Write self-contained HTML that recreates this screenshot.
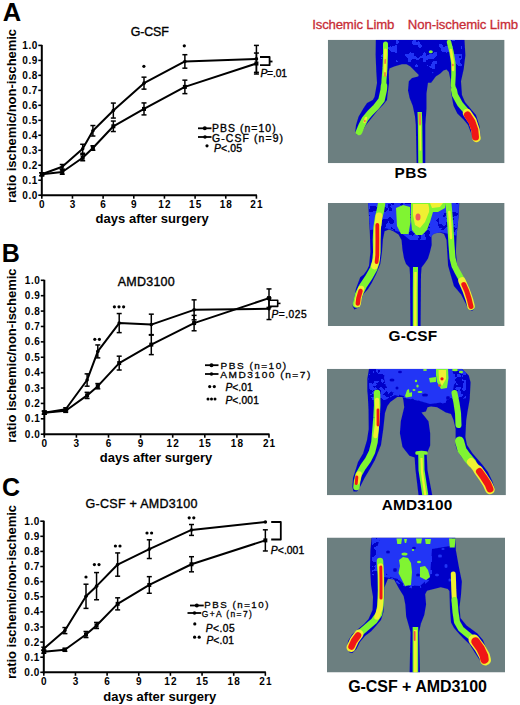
<!DOCTYPE html><html><head><meta charset="utf-8"><style>html,body{margin:0;padding:0;background:#fff;width:520px;height:705px;overflow:hidden}svg{display:block}text{font-family:"Liberation Sans",sans-serif}</style></head><body>
<svg width="520" height="705" viewBox="0 0 520 705">
<rect width="520" height="705" fill="#fff"/>
<line x1="41.8" y1="44.9" x2="41.8" y2="196.2" stroke="#000" stroke-width="2" stroke-linecap="butt"/>
<line x1="40.8" y1="195.2" x2="256.92" y2="195.2" stroke="#000" stroke-width="2" stroke-linecap="butt"/>
<line x1="38.3" y1="195.2" x2="41.8" y2="195.2" stroke="#000" stroke-width="1.6" stroke-linecap="butt"/>
<text x="37.3" y="198.8" font-size="10" font-weight="bold" text-anchor="end" fill="#000" textLength="15" lengthAdjust="spacing">0.0</text>
<line x1="38.3" y1="180.22" x2="41.8" y2="180.22" stroke="#000" stroke-width="1.6" stroke-linecap="butt"/>
<text x="37.3" y="183.82" font-size="10" font-weight="bold" text-anchor="end" fill="#000" textLength="15" lengthAdjust="spacing">0.1</text>
<line x1="38.3" y1="165.24" x2="41.8" y2="165.24" stroke="#000" stroke-width="1.6" stroke-linecap="butt"/>
<text x="37.3" y="168.84" font-size="10" font-weight="bold" text-anchor="end" fill="#000" textLength="15" lengthAdjust="spacing">0.2</text>
<line x1="38.3" y1="150.26" x2="41.8" y2="150.26" stroke="#000" stroke-width="1.6" stroke-linecap="butt"/>
<text x="37.3" y="153.86" font-size="10" font-weight="bold" text-anchor="end" fill="#000" textLength="15" lengthAdjust="spacing">0.3</text>
<line x1="38.3" y1="135.28" x2="41.8" y2="135.28" stroke="#000" stroke-width="1.6" stroke-linecap="butt"/>
<text x="37.3" y="138.88" font-size="10" font-weight="bold" text-anchor="end" fill="#000" textLength="15" lengthAdjust="spacing">0.4</text>
<line x1="38.3" y1="120.3" x2="41.8" y2="120.3" stroke="#000" stroke-width="1.6" stroke-linecap="butt"/>
<text x="37.3" y="123.9" font-size="10" font-weight="bold" text-anchor="end" fill="#000" textLength="15" lengthAdjust="spacing">0.5</text>
<line x1="38.3" y1="105.32" x2="41.8" y2="105.32" stroke="#000" stroke-width="1.6" stroke-linecap="butt"/>
<text x="37.3" y="108.92" font-size="10" font-weight="bold" text-anchor="end" fill="#000" textLength="15" lengthAdjust="spacing">0.6</text>
<line x1="38.3" y1="90.34" x2="41.8" y2="90.34" stroke="#000" stroke-width="1.6" stroke-linecap="butt"/>
<text x="37.3" y="93.94" font-size="10" font-weight="bold" text-anchor="end" fill="#000" textLength="15" lengthAdjust="spacing">0.7</text>
<line x1="38.3" y1="75.36" x2="41.8" y2="75.36" stroke="#000" stroke-width="1.6" stroke-linecap="butt"/>
<text x="37.3" y="78.96" font-size="10" font-weight="bold" text-anchor="end" fill="#000" textLength="15" lengthAdjust="spacing">0.8</text>
<line x1="38.3" y1="60.38" x2="41.8" y2="60.38" stroke="#000" stroke-width="1.6" stroke-linecap="butt"/>
<text x="37.3" y="63.98" font-size="10" font-weight="bold" text-anchor="end" fill="#000" textLength="15" lengthAdjust="spacing">0.9</text>
<line x1="38.3" y1="45.4" x2="41.8" y2="45.4" stroke="#000" stroke-width="1.6" stroke-linecap="butt"/>
<text x="37.3" y="49" font-size="10" font-weight="bold" text-anchor="end" fill="#000" textLength="15" lengthAdjust="spacing">1.0</text>
<line x1="41.8" y1="195.2" x2="41.8" y2="198.7" stroke="#000" stroke-width="1.6" stroke-linecap="butt"/>
<text x="41.8" y="207.5" font-size="10" font-weight="bold" text-anchor="middle" fill="#000">0</text>
<line x1="72.46" y1="195.2" x2="72.46" y2="198.7" stroke="#000" stroke-width="1.6" stroke-linecap="butt"/>
<text x="72.46" y="207.5" font-size="10" font-weight="bold" text-anchor="middle" fill="#000">3</text>
<line x1="103.12" y1="195.2" x2="103.12" y2="198.7" stroke="#000" stroke-width="1.6" stroke-linecap="butt"/>
<text x="103.12" y="207.5" font-size="10" font-weight="bold" text-anchor="middle" fill="#000">6</text>
<line x1="133.78" y1="195.2" x2="133.78" y2="198.7" stroke="#000" stroke-width="1.6" stroke-linecap="butt"/>
<text x="133.78" y="207.5" font-size="10" font-weight="bold" text-anchor="middle" fill="#000">9</text>
<line x1="164.44" y1="195.2" x2="164.44" y2="198.7" stroke="#000" stroke-width="1.6" stroke-linecap="butt"/>
<text x="164.44" y="207.5" font-size="10" font-weight="bold" text-anchor="middle" fill="#000" textLength="12.2" lengthAdjust="spacing">12</text>
<line x1="195.1" y1="195.2" x2="195.1" y2="198.7" stroke="#000" stroke-width="1.6" stroke-linecap="butt"/>
<text x="195.1" y="207.5" font-size="10" font-weight="bold" text-anchor="middle" fill="#000" textLength="12.2" lengthAdjust="spacing">15</text>
<line x1="225.76" y1="195.2" x2="225.76" y2="198.7" stroke="#000" stroke-width="1.6" stroke-linecap="butt"/>
<text x="225.76" y="207.5" font-size="10" font-weight="bold" text-anchor="middle" fill="#000" textLength="12.2" lengthAdjust="spacing">18</text>
<line x1="256.42" y1="195.2" x2="256.42" y2="198.7" stroke="#000" stroke-width="1.6" stroke-linecap="butt"/>
<text x="256.42" y="207.5" font-size="10" font-weight="bold" text-anchor="middle" fill="#000" textLength="12.2" lengthAdjust="spacing">21</text>
<polyline points="41.8,174.23 62.24,171.98 82.68,157.75 92.9,148.01 113.34,126.29 144,108.92 184.88,86.89 256.42,63.53" fill="none" stroke="#000" stroke-width="2" stroke-linejoin="round"/>
<line x1="41.8" y1="172.73" x2="41.8" y2="175.73" stroke="#000" stroke-width="1.5" stroke-linecap="butt"/>
<line x1="39.3" y1="172.73" x2="44.3" y2="172.73" stroke="#000" stroke-width="1.5" stroke-linecap="butt"/>
<line x1="39.3" y1="175.73" x2="44.3" y2="175.73" stroke="#000" stroke-width="1.5" stroke-linecap="butt"/>
<rect x="39.8" y="172.23" width="4" height="4" fill="#000"/>
<line x1="62.24" y1="169.73" x2="62.24" y2="174.23" stroke="#000" stroke-width="1.5" stroke-linecap="butt"/>
<line x1="59.74" y1="169.73" x2="64.74" y2="169.73" stroke="#000" stroke-width="1.5" stroke-linecap="butt"/>
<line x1="59.74" y1="174.23" x2="64.74" y2="174.23" stroke="#000" stroke-width="1.5" stroke-linecap="butt"/>
<rect x="60.24" y="169.98" width="4" height="4" fill="#000"/>
<line x1="82.68" y1="154.75" x2="82.68" y2="160.75" stroke="#000" stroke-width="1.5" stroke-linecap="butt"/>
<line x1="80.18" y1="154.75" x2="85.18" y2="154.75" stroke="#000" stroke-width="1.5" stroke-linecap="butt"/>
<line x1="80.18" y1="160.75" x2="85.18" y2="160.75" stroke="#000" stroke-width="1.5" stroke-linecap="butt"/>
<rect x="80.68" y="155.75" width="4" height="4" fill="#000"/>
<line x1="92.9" y1="145.77" x2="92.9" y2="150.26" stroke="#000" stroke-width="1.5" stroke-linecap="butt"/>
<line x1="90.4" y1="145.77" x2="95.4" y2="145.77" stroke="#000" stroke-width="1.5" stroke-linecap="butt"/>
<line x1="90.4" y1="150.26" x2="95.4" y2="150.26" stroke="#000" stroke-width="1.5" stroke-linecap="butt"/>
<rect x="90.9" y="146.01" width="4" height="4" fill="#000"/>
<line x1="113.34" y1="121.05" x2="113.34" y2="131.53" stroke="#000" stroke-width="1.5" stroke-linecap="butt"/>
<line x1="110.84" y1="121.05" x2="115.84" y2="121.05" stroke="#000" stroke-width="1.5" stroke-linecap="butt"/>
<line x1="110.84" y1="131.53" x2="115.84" y2="131.53" stroke="#000" stroke-width="1.5" stroke-linecap="butt"/>
<rect x="111.34" y="124.29" width="4" height="4" fill="#000"/>
<line x1="144" y1="102.92" x2="144" y2="114.91" stroke="#000" stroke-width="1.5" stroke-linecap="butt"/>
<line x1="141.5" y1="102.92" x2="146.5" y2="102.92" stroke="#000" stroke-width="1.5" stroke-linecap="butt"/>
<line x1="141.5" y1="114.91" x2="146.5" y2="114.91" stroke="#000" stroke-width="1.5" stroke-linecap="butt"/>
<rect x="142" y="106.92" width="4" height="4" fill="#000"/>
<line x1="184.88" y1="80.15" x2="184.88" y2="93.64" stroke="#000" stroke-width="1.5" stroke-linecap="butt"/>
<line x1="182.38" y1="80.15" x2="187.38" y2="80.15" stroke="#000" stroke-width="1.5" stroke-linecap="butt"/>
<line x1="182.38" y1="93.64" x2="187.38" y2="93.64" stroke="#000" stroke-width="1.5" stroke-linecap="butt"/>
<rect x="182.88" y="84.89" width="4" height="4" fill="#000"/>
<line x1="256.42" y1="53.04" x2="256.42" y2="74.01" stroke="#000" stroke-width="1.5" stroke-linecap="butt"/>
<line x1="253.92" y1="53.04" x2="258.92" y2="53.04" stroke="#000" stroke-width="1.5" stroke-linecap="butt"/>
<line x1="253.92" y1="74.01" x2="258.92" y2="74.01" stroke="#000" stroke-width="1.5" stroke-linecap="butt"/>
<rect x="254.42" y="61.53" width="4" height="4" fill="#000"/>
<polyline points="41.8,174.23 62.24,166.74 82.68,148.76 92.9,130.79 113.34,110.56 144,83.15 184.88,61.43 256.42,58.88" fill="none" stroke="#000" stroke-width="2" stroke-linejoin="round"/>
<line x1="41.8" y1="172.73" x2="41.8" y2="175.73" stroke="#000" stroke-width="1.5" stroke-linecap="butt"/>
<line x1="39.3" y1="172.73" x2="44.3" y2="172.73" stroke="#000" stroke-width="1.5" stroke-linecap="butt"/>
<line x1="39.3" y1="175.73" x2="44.3" y2="175.73" stroke="#000" stroke-width="1.5" stroke-linecap="butt"/>
<circle cx="41.8" cy="174.23" r="1.8" fill="#000"/>
<line x1="62.24" y1="164.49" x2="62.24" y2="168.98" stroke="#000" stroke-width="1.5" stroke-linecap="butt"/>
<line x1="59.74" y1="164.49" x2="64.74" y2="164.49" stroke="#000" stroke-width="1.5" stroke-linecap="butt"/>
<line x1="59.74" y1="168.98" x2="64.74" y2="168.98" stroke="#000" stroke-width="1.5" stroke-linecap="butt"/>
<circle cx="62.24" cy="166.74" r="1.8" fill="#000"/>
<line x1="82.68" y1="144.27" x2="82.68" y2="153.26" stroke="#000" stroke-width="1.5" stroke-linecap="butt"/>
<line x1="80.18" y1="144.27" x2="85.18" y2="144.27" stroke="#000" stroke-width="1.5" stroke-linecap="butt"/>
<line x1="80.18" y1="153.26" x2="85.18" y2="153.26" stroke="#000" stroke-width="1.5" stroke-linecap="butt"/>
<circle cx="82.68" cy="148.76" r="1.8" fill="#000"/>
<line x1="92.9" y1="125.54" x2="92.9" y2="136.03" stroke="#000" stroke-width="1.5" stroke-linecap="butt"/>
<line x1="90.4" y1="125.54" x2="95.4" y2="125.54" stroke="#000" stroke-width="1.5" stroke-linecap="butt"/>
<line x1="90.4" y1="136.03" x2="95.4" y2="136.03" stroke="#000" stroke-width="1.5" stroke-linecap="butt"/>
<circle cx="92.9" cy="130.79" r="1.8" fill="#000"/>
<line x1="113.34" y1="103.07" x2="113.34" y2="118.05" stroke="#000" stroke-width="1.5" stroke-linecap="butt"/>
<line x1="110.84" y1="103.07" x2="115.84" y2="103.07" stroke="#000" stroke-width="1.5" stroke-linecap="butt"/>
<line x1="110.84" y1="118.05" x2="115.84" y2="118.05" stroke="#000" stroke-width="1.5" stroke-linecap="butt"/>
<circle cx="113.34" cy="110.56" r="1.8" fill="#000"/>
<line x1="144" y1="77.16" x2="144" y2="89.14" stroke="#000" stroke-width="1.5" stroke-linecap="butt"/>
<line x1="141.5" y1="77.16" x2="146.5" y2="77.16" stroke="#000" stroke-width="1.5" stroke-linecap="butt"/>
<line x1="141.5" y1="89.14" x2="146.5" y2="89.14" stroke="#000" stroke-width="1.5" stroke-linecap="butt"/>
<circle cx="144" cy="83.15" r="1.8" fill="#000"/>
<line x1="184.88" y1="54.69" x2="184.88" y2="68.17" stroke="#000" stroke-width="1.5" stroke-linecap="butt"/>
<line x1="182.38" y1="54.69" x2="187.38" y2="54.69" stroke="#000" stroke-width="1.5" stroke-linecap="butt"/>
<line x1="182.38" y1="68.17" x2="187.38" y2="68.17" stroke="#000" stroke-width="1.5" stroke-linecap="butt"/>
<circle cx="184.88" cy="61.43" r="1.8" fill="#000"/>
<line x1="256.42" y1="45.4" x2="256.42" y2="72.36" stroke="#000" stroke-width="1.5" stroke-linecap="butt"/>
<line x1="253.92" y1="45.4" x2="258.92" y2="45.4" stroke="#000" stroke-width="1.5" stroke-linecap="butt"/>
<line x1="253.92" y1="72.36" x2="258.92" y2="72.36" stroke="#000" stroke-width="1.5" stroke-linecap="butt"/>
<circle cx="256.42" cy="58.88" r="1.8" fill="#000"/>
<text x="2.7" y="21" font-size="25.5" font-weight="bold" text-anchor="start" fill="#000">A</text>
<text x="130.8" y="35.8" font-size="12.4" font-weight="normal" text-anchor="start" fill="#000" textLength="38" lengthAdjust="spacing" stroke="#000" stroke-width="0.35">G-CSF</text>
<text x="95.5" y="222.5" font-size="13" font-weight="bold" text-anchor="start" fill="#000" textLength="113.2" lengthAdjust="spacing">days after surgery</text>
<text x="0" y="0" font-size="13" font-weight="bold" text-anchor="middle" textLength="174" lengthAdjust="spacing" transform="translate(15.6,115.9) rotate(-90)">ratio ischemic/non-ischemic</text>
<circle cx="143.9" cy="66.3" r="1.6"/>
<circle cx="184.3" cy="45.8" r="1.6"/>
<line x1="44.3" y1="279.8" x2="44.3" y2="435.2" stroke="#000" stroke-width="2" stroke-linecap="butt"/>
<line x1="43.3" y1="434.2" x2="269.5" y2="434.2" stroke="#000" stroke-width="2" stroke-linecap="butt"/>
<line x1="40.8" y1="434.2" x2="44.3" y2="434.2" stroke="#000" stroke-width="1.6" stroke-linecap="butt"/>
<text x="39.8" y="437.8" font-size="10" font-weight="bold" text-anchor="end" fill="#000" textLength="15" lengthAdjust="spacing">0.0</text>
<line x1="40.8" y1="418.81" x2="44.3" y2="418.81" stroke="#000" stroke-width="1.6" stroke-linecap="butt"/>
<text x="39.8" y="422.41" font-size="10" font-weight="bold" text-anchor="end" fill="#000" textLength="15" lengthAdjust="spacing">0.1</text>
<line x1="40.8" y1="403.42" x2="44.3" y2="403.42" stroke="#000" stroke-width="1.6" stroke-linecap="butt"/>
<text x="39.8" y="407.02" font-size="10" font-weight="bold" text-anchor="end" fill="#000" textLength="15" lengthAdjust="spacing">0.2</text>
<line x1="40.8" y1="388.03" x2="44.3" y2="388.03" stroke="#000" stroke-width="1.6" stroke-linecap="butt"/>
<text x="39.8" y="391.63" font-size="10" font-weight="bold" text-anchor="end" fill="#000" textLength="15" lengthAdjust="spacing">0.3</text>
<line x1="40.8" y1="372.64" x2="44.3" y2="372.64" stroke="#000" stroke-width="1.6" stroke-linecap="butt"/>
<text x="39.8" y="376.24" font-size="10" font-weight="bold" text-anchor="end" fill="#000" textLength="15" lengthAdjust="spacing">0.4</text>
<line x1="40.8" y1="357.25" x2="44.3" y2="357.25" stroke="#000" stroke-width="1.6" stroke-linecap="butt"/>
<text x="39.8" y="360.85" font-size="10" font-weight="bold" text-anchor="end" fill="#000" textLength="15" lengthAdjust="spacing">0.5</text>
<line x1="40.8" y1="341.86" x2="44.3" y2="341.86" stroke="#000" stroke-width="1.6" stroke-linecap="butt"/>
<text x="39.8" y="345.46" font-size="10" font-weight="bold" text-anchor="end" fill="#000" textLength="15" lengthAdjust="spacing">0.6</text>
<line x1="40.8" y1="326.47" x2="44.3" y2="326.47" stroke="#000" stroke-width="1.6" stroke-linecap="butt"/>
<text x="39.8" y="330.07" font-size="10" font-weight="bold" text-anchor="end" fill="#000" textLength="15" lengthAdjust="spacing">0.7</text>
<line x1="40.8" y1="311.08" x2="44.3" y2="311.08" stroke="#000" stroke-width="1.6" stroke-linecap="butt"/>
<text x="39.8" y="314.68" font-size="10" font-weight="bold" text-anchor="end" fill="#000" textLength="15" lengthAdjust="spacing">0.8</text>
<line x1="40.8" y1="295.69" x2="44.3" y2="295.69" stroke="#000" stroke-width="1.6" stroke-linecap="butt"/>
<text x="39.8" y="299.29" font-size="10" font-weight="bold" text-anchor="end" fill="#000" textLength="15" lengthAdjust="spacing">0.9</text>
<line x1="40.8" y1="280.3" x2="44.3" y2="280.3" stroke="#000" stroke-width="1.6" stroke-linecap="butt"/>
<text x="39.8" y="283.9" font-size="10" font-weight="bold" text-anchor="end" fill="#000" textLength="15" lengthAdjust="spacing">1.0</text>
<line x1="44.3" y1="434.2" x2="44.3" y2="437.7" stroke="#000" stroke-width="1.6" stroke-linecap="butt"/>
<text x="44.3" y="446.5" font-size="10" font-weight="bold" text-anchor="middle" fill="#000">0</text>
<line x1="76.4" y1="434.2" x2="76.4" y2="437.7" stroke="#000" stroke-width="1.6" stroke-linecap="butt"/>
<text x="76.4" y="446.5" font-size="10" font-weight="bold" text-anchor="middle" fill="#000">3</text>
<line x1="108.5" y1="434.2" x2="108.5" y2="437.7" stroke="#000" stroke-width="1.6" stroke-linecap="butt"/>
<text x="108.5" y="446.5" font-size="10" font-weight="bold" text-anchor="middle" fill="#000">6</text>
<line x1="140.6" y1="434.2" x2="140.6" y2="437.7" stroke="#000" stroke-width="1.6" stroke-linecap="butt"/>
<text x="140.6" y="446.5" font-size="10" font-weight="bold" text-anchor="middle" fill="#000">9</text>
<line x1="172.7" y1="434.2" x2="172.7" y2="437.7" stroke="#000" stroke-width="1.6" stroke-linecap="butt"/>
<text x="172.7" y="446.5" font-size="10" font-weight="bold" text-anchor="middle" fill="#000" textLength="12.2" lengthAdjust="spacing">12</text>
<line x1="204.8" y1="434.2" x2="204.8" y2="437.7" stroke="#000" stroke-width="1.6" stroke-linecap="butt"/>
<text x="204.8" y="446.5" font-size="10" font-weight="bold" text-anchor="middle" fill="#000" textLength="12.2" lengthAdjust="spacing">15</text>
<line x1="236.9" y1="434.2" x2="236.9" y2="437.7" stroke="#000" stroke-width="1.6" stroke-linecap="butt"/>
<text x="236.9" y="446.5" font-size="10" font-weight="bold" text-anchor="middle" fill="#000" textLength="12.2" lengthAdjust="spacing">18</text>
<line x1="269" y1="434.2" x2="269" y2="437.7" stroke="#000" stroke-width="1.6" stroke-linecap="butt"/>
<text x="269" y="446.5" font-size="10" font-weight="bold" text-anchor="middle" fill="#000" textLength="12.2" lengthAdjust="spacing">21</text>
<polyline points="44.3,412.65 65.7,410.81 87.1,395.42 97.8,386.18 119.2,363.1 151.3,344.63 194.1,323.08 269,298.15" fill="none" stroke="#000" stroke-width="2" stroke-linejoin="round"/>
<line x1="44.3" y1="411.12" x2="44.3" y2="414.19" stroke="#000" stroke-width="1.5" stroke-linecap="butt"/>
<line x1="41.8" y1="411.12" x2="46.8" y2="411.12" stroke="#000" stroke-width="1.5" stroke-linecap="butt"/>
<line x1="41.8" y1="414.19" x2="46.8" y2="414.19" stroke="#000" stroke-width="1.5" stroke-linecap="butt"/>
<rect x="42.3" y="410.65" width="4" height="4" fill="#000"/>
<line x1="65.7" y1="409.27" x2="65.7" y2="412.35" stroke="#000" stroke-width="1.5" stroke-linecap="butt"/>
<line x1="63.2" y1="409.27" x2="68.2" y2="409.27" stroke="#000" stroke-width="1.5" stroke-linecap="butt"/>
<line x1="63.2" y1="412.35" x2="68.2" y2="412.35" stroke="#000" stroke-width="1.5" stroke-linecap="butt"/>
<rect x="63.7" y="408.81" width="4" height="4" fill="#000"/>
<line x1="87.1" y1="392.34" x2="87.1" y2="398.5" stroke="#000" stroke-width="1.5" stroke-linecap="butt"/>
<line x1="84.6" y1="392.34" x2="89.6" y2="392.34" stroke="#000" stroke-width="1.5" stroke-linecap="butt"/>
<line x1="84.6" y1="398.5" x2="89.6" y2="398.5" stroke="#000" stroke-width="1.5" stroke-linecap="butt"/>
<rect x="85.1" y="393.42" width="4" height="4" fill="#000"/>
<line x1="97.8" y1="383.57" x2="97.8" y2="388.8" stroke="#000" stroke-width="1.5" stroke-linecap="butt"/>
<line x1="95.3" y1="383.57" x2="100.3" y2="383.57" stroke="#000" stroke-width="1.5" stroke-linecap="butt"/>
<line x1="95.3" y1="388.8" x2="100.3" y2="388.8" stroke="#000" stroke-width="1.5" stroke-linecap="butt"/>
<rect x="95.8" y="384.18" width="4" height="4" fill="#000"/>
<line x1="119.2" y1="356.17" x2="119.2" y2="370.02" stroke="#000" stroke-width="1.5" stroke-linecap="butt"/>
<line x1="116.7" y1="356.17" x2="121.7" y2="356.17" stroke="#000" stroke-width="1.5" stroke-linecap="butt"/>
<line x1="116.7" y1="370.02" x2="121.7" y2="370.02" stroke="#000" stroke-width="1.5" stroke-linecap="butt"/>
<rect x="117.2" y="361.1" width="4" height="4" fill="#000"/>
<line x1="151.3" y1="334.63" x2="151.3" y2="354.63" stroke="#000" stroke-width="1.5" stroke-linecap="butt"/>
<line x1="148.8" y1="334.63" x2="153.8" y2="334.63" stroke="#000" stroke-width="1.5" stroke-linecap="butt"/>
<line x1="148.8" y1="354.63" x2="153.8" y2="354.63" stroke="#000" stroke-width="1.5" stroke-linecap="butt"/>
<rect x="149.3" y="342.63" width="4" height="4" fill="#000"/>
<line x1="194.1" y1="315.39" x2="194.1" y2="330.78" stroke="#000" stroke-width="1.5" stroke-linecap="butt"/>
<line x1="191.6" y1="315.39" x2="196.6" y2="315.39" stroke="#000" stroke-width="1.5" stroke-linecap="butt"/>
<line x1="191.6" y1="330.78" x2="196.6" y2="330.78" stroke="#000" stroke-width="1.5" stroke-linecap="butt"/>
<rect x="192.1" y="321.08" width="4" height="4" fill="#000"/>
<line x1="269" y1="288.92" x2="269" y2="307.39" stroke="#000" stroke-width="1.5" stroke-linecap="butt"/>
<line x1="266.5" y1="288.92" x2="271.5" y2="288.92" stroke="#000" stroke-width="1.5" stroke-linecap="butt"/>
<line x1="266.5" y1="307.39" x2="271.5" y2="307.39" stroke="#000" stroke-width="1.5" stroke-linecap="butt"/>
<rect x="267" y="296.15" width="4" height="4" fill="#000"/>
<polyline points="44.3,412.65 65.7,409.27 87.1,380.03 97.8,351.4 119.2,323.08 151.3,324.62 194.1,309.85 269,308.77" fill="none" stroke="#000" stroke-width="2" stroke-linejoin="round"/>
<line x1="44.3" y1="411.12" x2="44.3" y2="414.19" stroke="#000" stroke-width="1.5" stroke-linecap="butt"/>
<line x1="41.8" y1="411.12" x2="46.8" y2="411.12" stroke="#000" stroke-width="1.5" stroke-linecap="butt"/>
<line x1="41.8" y1="414.19" x2="46.8" y2="414.19" stroke="#000" stroke-width="1.5" stroke-linecap="butt"/>
<circle cx="44.3" cy="412.65" r="1.8" fill="#000"/>
<line x1="65.7" y1="407.73" x2="65.7" y2="410.81" stroke="#000" stroke-width="1.5" stroke-linecap="butt"/>
<line x1="63.2" y1="407.73" x2="68.2" y2="407.73" stroke="#000" stroke-width="1.5" stroke-linecap="butt"/>
<line x1="63.2" y1="410.81" x2="68.2" y2="410.81" stroke="#000" stroke-width="1.5" stroke-linecap="butt"/>
<circle cx="65.7" cy="409.27" r="1.8" fill="#000"/>
<line x1="87.1" y1="373.87" x2="87.1" y2="386.18" stroke="#000" stroke-width="1.5" stroke-linecap="butt"/>
<line x1="84.6" y1="373.87" x2="89.6" y2="373.87" stroke="#000" stroke-width="1.5" stroke-linecap="butt"/>
<line x1="84.6" y1="386.18" x2="89.6" y2="386.18" stroke="#000" stroke-width="1.5" stroke-linecap="butt"/>
<circle cx="87.1" cy="380.03" r="1.8" fill="#000"/>
<line x1="97.8" y1="344.94" x2="97.8" y2="357.87" stroke="#000" stroke-width="1.5" stroke-linecap="butt"/>
<line x1="95.3" y1="344.94" x2="100.3" y2="344.94" stroke="#000" stroke-width="1.5" stroke-linecap="butt"/>
<line x1="95.3" y1="357.87" x2="100.3" y2="357.87" stroke="#000" stroke-width="1.5" stroke-linecap="butt"/>
<circle cx="97.8" cy="351.4" r="1.8" fill="#000"/>
<line x1="119.2" y1="313.54" x2="119.2" y2="332.63" stroke="#000" stroke-width="1.5" stroke-linecap="butt"/>
<line x1="116.7" y1="313.54" x2="121.7" y2="313.54" stroke="#000" stroke-width="1.5" stroke-linecap="butt"/>
<line x1="116.7" y1="332.63" x2="121.7" y2="332.63" stroke="#000" stroke-width="1.5" stroke-linecap="butt"/>
<circle cx="119.2" cy="323.08" r="1.8" fill="#000"/>
<line x1="151.3" y1="314.16" x2="151.3" y2="335.09" stroke="#000" stroke-width="1.5" stroke-linecap="butt"/>
<line x1="148.8" y1="314.16" x2="153.8" y2="314.16" stroke="#000" stroke-width="1.5" stroke-linecap="butt"/>
<line x1="148.8" y1="335.09" x2="153.8" y2="335.09" stroke="#000" stroke-width="1.5" stroke-linecap="butt"/>
<circle cx="151.3" cy="324.62" r="1.8" fill="#000"/>
<line x1="194.1" y1="299.85" x2="194.1" y2="319.85" stroke="#000" stroke-width="1.5" stroke-linecap="butt"/>
<line x1="191.6" y1="299.85" x2="196.6" y2="299.85" stroke="#000" stroke-width="1.5" stroke-linecap="butt"/>
<line x1="191.6" y1="319.85" x2="196.6" y2="319.85" stroke="#000" stroke-width="1.5" stroke-linecap="butt"/>
<circle cx="194.1" cy="309.85" r="1.8" fill="#000"/>
<line x1="269" y1="298" x2="269" y2="319.54" stroke="#000" stroke-width="1.5" stroke-linecap="butt"/>
<line x1="266.5" y1="298" x2="271.5" y2="298" stroke="#000" stroke-width="1.5" stroke-linecap="butt"/>
<line x1="266.5" y1="319.54" x2="271.5" y2="319.54" stroke="#000" stroke-width="1.5" stroke-linecap="butt"/>
<circle cx="269" cy="308.77" r="1.8" fill="#000"/>
<text x="1.8" y="262" font-size="25" font-weight="bold" text-anchor="start" fill="#000">B</text>
<text x="117.7" y="286.3" font-size="12.5" font-weight="normal" text-anchor="start" fill="#000" textLength="57" lengthAdjust="spacing" stroke="#000" stroke-width="0.35">AMD3100</text>
<text x="99.8" y="461.9" font-size="13" font-weight="bold" text-anchor="start" fill="#000" textLength="112.5" lengthAdjust="spacing">days after surgery</text>
<text x="0" y="0" font-size="13" font-weight="bold" text-anchor="middle" textLength="174.3" lengthAdjust="spacing" transform="translate(15.6,355.6) rotate(-90)">ratio ischemic/non-ischemic</text>
<circle cx="94.8" cy="339.3" r="1.6"/>
<circle cx="99.4" cy="339.3" r="1.6"/>
<circle cx="114.4" cy="306.8" r="1.6"/>
<circle cx="119" cy="306.8" r="1.6"/>
<circle cx="123.6" cy="306.8" r="1.6"/>
<line x1="43.8" y1="520.7" x2="43.8" y2="673.3" stroke="#000" stroke-width="2" stroke-linecap="butt"/>
<line x1="42.8" y1="672.3" x2="265.85" y2="672.3" stroke="#000" stroke-width="2" stroke-linecap="butt"/>
<line x1="40.3" y1="672.3" x2="43.8" y2="672.3" stroke="#000" stroke-width="1.6" stroke-linecap="butt"/>
<text x="39.3" y="675.9" font-size="10" font-weight="bold" text-anchor="end" fill="#000" textLength="15" lengthAdjust="spacing">0.0</text>
<line x1="40.3" y1="657.19" x2="43.8" y2="657.19" stroke="#000" stroke-width="1.6" stroke-linecap="butt"/>
<text x="39.3" y="660.79" font-size="10" font-weight="bold" text-anchor="end" fill="#000" textLength="15" lengthAdjust="spacing">0.1</text>
<line x1="40.3" y1="642.08" x2="43.8" y2="642.08" stroke="#000" stroke-width="1.6" stroke-linecap="butt"/>
<text x="39.3" y="645.68" font-size="10" font-weight="bold" text-anchor="end" fill="#000" textLength="15" lengthAdjust="spacing">0.2</text>
<line x1="40.3" y1="626.97" x2="43.8" y2="626.97" stroke="#000" stroke-width="1.6" stroke-linecap="butt"/>
<text x="39.3" y="630.57" font-size="10" font-weight="bold" text-anchor="end" fill="#000" textLength="15" lengthAdjust="spacing">0.3</text>
<line x1="40.3" y1="611.86" x2="43.8" y2="611.86" stroke="#000" stroke-width="1.6" stroke-linecap="butt"/>
<text x="39.3" y="615.46" font-size="10" font-weight="bold" text-anchor="end" fill="#000" textLength="15" lengthAdjust="spacing">0.4</text>
<line x1="40.3" y1="596.75" x2="43.8" y2="596.75" stroke="#000" stroke-width="1.6" stroke-linecap="butt"/>
<text x="39.3" y="600.35" font-size="10" font-weight="bold" text-anchor="end" fill="#000" textLength="15" lengthAdjust="spacing">0.5</text>
<line x1="40.3" y1="581.64" x2="43.8" y2="581.64" stroke="#000" stroke-width="1.6" stroke-linecap="butt"/>
<text x="39.3" y="585.24" font-size="10" font-weight="bold" text-anchor="end" fill="#000" textLength="15" lengthAdjust="spacing">0.6</text>
<line x1="40.3" y1="566.53" x2="43.8" y2="566.53" stroke="#000" stroke-width="1.6" stroke-linecap="butt"/>
<text x="39.3" y="570.13" font-size="10" font-weight="bold" text-anchor="end" fill="#000" textLength="15" lengthAdjust="spacing">0.7</text>
<line x1="40.3" y1="551.42" x2="43.8" y2="551.42" stroke="#000" stroke-width="1.6" stroke-linecap="butt"/>
<text x="39.3" y="555.02" font-size="10" font-weight="bold" text-anchor="end" fill="#000" textLength="15" lengthAdjust="spacing">0.8</text>
<line x1="40.3" y1="536.31" x2="43.8" y2="536.31" stroke="#000" stroke-width="1.6" stroke-linecap="butt"/>
<text x="39.3" y="539.91" font-size="10" font-weight="bold" text-anchor="end" fill="#000" textLength="15" lengthAdjust="spacing">0.9</text>
<line x1="40.3" y1="521.2" x2="43.8" y2="521.2" stroke="#000" stroke-width="1.6" stroke-linecap="butt"/>
<text x="39.3" y="524.8" font-size="10" font-weight="bold" text-anchor="end" fill="#000" textLength="15" lengthAdjust="spacing">1.0</text>
<line x1="43.8" y1="672.3" x2="43.8" y2="675.8" stroke="#000" stroke-width="1.6" stroke-linecap="butt"/>
<text x="43.8" y="684.8" font-size="10" font-weight="bold" text-anchor="middle" fill="#000">0</text>
<line x1="75.45" y1="672.3" x2="75.45" y2="675.8" stroke="#000" stroke-width="1.6" stroke-linecap="butt"/>
<text x="75.45" y="684.8" font-size="10" font-weight="bold" text-anchor="middle" fill="#000">3</text>
<line x1="107.1" y1="672.3" x2="107.1" y2="675.8" stroke="#000" stroke-width="1.6" stroke-linecap="butt"/>
<text x="107.1" y="684.8" font-size="10" font-weight="bold" text-anchor="middle" fill="#000">6</text>
<line x1="138.75" y1="672.3" x2="138.75" y2="675.8" stroke="#000" stroke-width="1.6" stroke-linecap="butt"/>
<text x="138.75" y="684.8" font-size="10" font-weight="bold" text-anchor="middle" fill="#000">9</text>
<line x1="170.4" y1="672.3" x2="170.4" y2="675.8" stroke="#000" stroke-width="1.6" stroke-linecap="butt"/>
<text x="170.4" y="684.8" font-size="10" font-weight="bold" text-anchor="middle" fill="#000" textLength="12.2" lengthAdjust="spacing">12</text>
<line x1="202.05" y1="672.3" x2="202.05" y2="675.8" stroke="#000" stroke-width="1.6" stroke-linecap="butt"/>
<text x="202.05" y="684.8" font-size="10" font-weight="bold" text-anchor="middle" fill="#000" textLength="12.2" lengthAdjust="spacing">15</text>
<line x1="233.7" y1="672.3" x2="233.7" y2="675.8" stroke="#000" stroke-width="1.6" stroke-linecap="butt"/>
<text x="233.7" y="684.8" font-size="10" font-weight="bold" text-anchor="middle" fill="#000" textLength="12.2" lengthAdjust="spacing">18</text>
<line x1="265.35" y1="672.3" x2="265.35" y2="675.8" stroke="#000" stroke-width="1.6" stroke-linecap="butt"/>
<text x="265.35" y="684.8" font-size="10" font-weight="bold" text-anchor="middle" fill="#000" textLength="12.2" lengthAdjust="spacing">21</text>
<polyline points="43.8,651.75 64.9,649.79 86,634.52 96.55,625.46 117.65,603.85 149.3,584.96 191.5,564.26 265.35,540.39" fill="none" stroke="#000" stroke-width="2" stroke-linejoin="round"/>
<line x1="43.8" y1="650.24" x2="43.8" y2="653.26" stroke="#000" stroke-width="1.5" stroke-linecap="butt"/>
<line x1="41.3" y1="650.24" x2="46.3" y2="650.24" stroke="#000" stroke-width="1.5" stroke-linecap="butt"/>
<line x1="41.3" y1="653.26" x2="46.3" y2="653.26" stroke="#000" stroke-width="1.5" stroke-linecap="butt"/>
<rect x="41.8" y="649.75" width="4" height="4" fill="#000"/>
<line x1="64.9" y1="648.28" x2="64.9" y2="651.3" stroke="#000" stroke-width="1.5" stroke-linecap="butt"/>
<line x1="62.4" y1="648.28" x2="67.4" y2="648.28" stroke="#000" stroke-width="1.5" stroke-linecap="butt"/>
<line x1="62.4" y1="651.3" x2="67.4" y2="651.3" stroke="#000" stroke-width="1.5" stroke-linecap="butt"/>
<rect x="62.9" y="647.79" width="4" height="4" fill="#000"/>
<line x1="86" y1="631.5" x2="86" y2="637.55" stroke="#000" stroke-width="1.5" stroke-linecap="butt"/>
<line x1="83.5" y1="631.5" x2="88.5" y2="631.5" stroke="#000" stroke-width="1.5" stroke-linecap="butt"/>
<line x1="83.5" y1="637.55" x2="88.5" y2="637.55" stroke="#000" stroke-width="1.5" stroke-linecap="butt"/>
<rect x="84" y="632.52" width="4" height="4" fill="#000"/>
<line x1="96.55" y1="622.44" x2="96.55" y2="628.48" stroke="#000" stroke-width="1.5" stroke-linecap="butt"/>
<line x1="94.05" y1="622.44" x2="99.05" y2="622.44" stroke="#000" stroke-width="1.5" stroke-linecap="butt"/>
<line x1="94.05" y1="628.48" x2="99.05" y2="628.48" stroke="#000" stroke-width="1.5" stroke-linecap="butt"/>
<rect x="94.55" y="623.46" width="4" height="4" fill="#000"/>
<line x1="117.65" y1="597.81" x2="117.65" y2="609.9" stroke="#000" stroke-width="1.5" stroke-linecap="butt"/>
<line x1="115.15" y1="597.81" x2="120.15" y2="597.81" stroke="#000" stroke-width="1.5" stroke-linecap="butt"/>
<line x1="115.15" y1="609.9" x2="120.15" y2="609.9" stroke="#000" stroke-width="1.5" stroke-linecap="butt"/>
<rect x="115.65" y="601.85" width="4" height="4" fill="#000"/>
<line x1="149.3" y1="576.65" x2="149.3" y2="593.27" stroke="#000" stroke-width="1.5" stroke-linecap="butt"/>
<line x1="146.8" y1="576.65" x2="151.8" y2="576.65" stroke="#000" stroke-width="1.5" stroke-linecap="butt"/>
<line x1="146.8" y1="593.27" x2="151.8" y2="593.27" stroke="#000" stroke-width="1.5" stroke-linecap="butt"/>
<rect x="147.3" y="582.96" width="4" height="4" fill="#000"/>
<line x1="191.5" y1="556.71" x2="191.5" y2="571.82" stroke="#000" stroke-width="1.5" stroke-linecap="butt"/>
<line x1="189" y1="556.71" x2="194" y2="556.71" stroke="#000" stroke-width="1.5" stroke-linecap="butt"/>
<line x1="189" y1="571.82" x2="194" y2="571.82" stroke="#000" stroke-width="1.5" stroke-linecap="butt"/>
<rect x="189.5" y="562.26" width="4" height="4" fill="#000"/>
<line x1="265.35" y1="529.81" x2="265.35" y2="550.97" stroke="#000" stroke-width="1.5" stroke-linecap="butt"/>
<line x1="262.85" y1="529.81" x2="267.85" y2="529.81" stroke="#000" stroke-width="1.5" stroke-linecap="butt"/>
<line x1="262.85" y1="550.97" x2="267.85" y2="550.97" stroke="#000" stroke-width="1.5" stroke-linecap="butt"/>
<rect x="263.35" y="538.39" width="4" height="4" fill="#000"/>
<polyline points="43.8,648.73 64.9,630.6 86,596.3 96.55,586.17 117.65,564.57 149.3,549.15 191.5,529.96 265.35,521.96" fill="none" stroke="#000" stroke-width="2" stroke-linejoin="round"/>
<line x1="43.8" y1="647.22" x2="43.8" y2="650.24" stroke="#000" stroke-width="1.5" stroke-linecap="butt"/>
<line x1="41.3" y1="647.22" x2="46.3" y2="647.22" stroke="#000" stroke-width="1.5" stroke-linecap="butt"/>
<line x1="41.3" y1="650.24" x2="46.3" y2="650.24" stroke="#000" stroke-width="1.5" stroke-linecap="butt"/>
<circle cx="43.8" cy="648.73" r="1.8" fill="#000"/>
<line x1="64.9" y1="627.57" x2="64.9" y2="633.62" stroke="#000" stroke-width="1.5" stroke-linecap="butt"/>
<line x1="62.4" y1="627.57" x2="67.4" y2="627.57" stroke="#000" stroke-width="1.5" stroke-linecap="butt"/>
<line x1="62.4" y1="633.62" x2="67.4" y2="633.62" stroke="#000" stroke-width="1.5" stroke-linecap="butt"/>
<circle cx="64.9" cy="630.6" r="1.8" fill="#000"/>
<line x1="86" y1="584.21" x2="86" y2="608.38" stroke="#000" stroke-width="1.5" stroke-linecap="butt"/>
<line x1="83.5" y1="584.21" x2="88.5" y2="584.21" stroke="#000" stroke-width="1.5" stroke-linecap="butt"/>
<line x1="83.5" y1="608.38" x2="88.5" y2="608.38" stroke="#000" stroke-width="1.5" stroke-linecap="butt"/>
<circle cx="86" cy="596.3" r="1.8" fill="#000"/>
<line x1="96.55" y1="572.57" x2="96.55" y2="599.77" stroke="#000" stroke-width="1.5" stroke-linecap="butt"/>
<line x1="94.05" y1="572.57" x2="99.05" y2="572.57" stroke="#000" stroke-width="1.5" stroke-linecap="butt"/>
<line x1="94.05" y1="599.77" x2="99.05" y2="599.77" stroke="#000" stroke-width="1.5" stroke-linecap="butt"/>
<circle cx="96.55" cy="586.17" r="1.8" fill="#000"/>
<line x1="117.65" y1="552.93" x2="117.65" y2="576.2" stroke="#000" stroke-width="1.5" stroke-linecap="butt"/>
<line x1="115.15" y1="552.93" x2="120.15" y2="552.93" stroke="#000" stroke-width="1.5" stroke-linecap="butt"/>
<line x1="115.15" y1="576.2" x2="120.15" y2="576.2" stroke="#000" stroke-width="1.5" stroke-linecap="butt"/>
<circle cx="117.65" cy="564.57" r="1.8" fill="#000"/>
<line x1="149.3" y1="539.79" x2="149.3" y2="558.52" stroke="#000" stroke-width="1.5" stroke-linecap="butt"/>
<line x1="146.8" y1="539.79" x2="151.8" y2="539.79" stroke="#000" stroke-width="1.5" stroke-linecap="butt"/>
<line x1="146.8" y1="558.52" x2="151.8" y2="558.52" stroke="#000" stroke-width="1.5" stroke-linecap="butt"/>
<circle cx="149.3" cy="549.15" r="1.8" fill="#000"/>
<line x1="191.5" y1="524.52" x2="191.5" y2="535.4" stroke="#000" stroke-width="1.5" stroke-linecap="butt"/>
<line x1="189" y1="524.52" x2="194" y2="524.52" stroke="#000" stroke-width="1.5" stroke-linecap="butt"/>
<line x1="189" y1="535.4" x2="194" y2="535.4" stroke="#000" stroke-width="1.5" stroke-linecap="butt"/>
<circle cx="191.5" cy="529.96" r="1.8" fill="#000"/>
<circle cx="265.35" cy="521.96" r="1.8" fill="#000"/>
<text x="1.9" y="496" font-size="25" font-weight="bold" text-anchor="start" fill="#000">C</text>
<text x="85.5" y="507.7" font-size="12.5" font-weight="normal" text-anchor="start" fill="#000" textLength="112" lengthAdjust="spacing" stroke="#000" stroke-width="0.35">G-CSF + AMD3100</text>
<text x="103.3" y="700.8" font-size="13" font-weight="bold" text-anchor="start" fill="#000" textLength="113" lengthAdjust="spacing">days after surgery</text>
<text x="0" y="0" font-size="13" font-weight="bold" text-anchor="middle" textLength="174" lengthAdjust="spacing" transform="translate(16.2,592) rotate(-90)">ratio ischemic/non-ischemic</text>
<circle cx="86" cy="577" r="1.6"/>
<circle cx="94.4" cy="564.6" r="1.6"/>
<circle cx="99" cy="564.6" r="1.6"/>
<circle cx="115.4" cy="546" r="1.6"/>
<circle cx="120" cy="546" r="1.6"/>
<circle cx="147" cy="533" r="1.6"/>
<circle cx="151.6" cy="533" r="1.6"/>
<circle cx="189.2" cy="517.8" r="1.6"/>
<circle cx="193.8" cy="517.8" r="1.6"/>
<line x1="198" y1="128.3" x2="211.5" y2="128.3" stroke="#000" stroke-width="1.8" stroke-linecap="butt"/>
<circle cx="204.8" cy="128.3" r="2"/>
<text x="212" y="131.8" font-size="10.4" font-weight="normal" text-anchor="start" fill="#000" textLength="63.6" lengthAdjust="spacing" stroke="#000" stroke-width="0.35">PBS (n=10)</text>
<line x1="198" y1="137" x2="211.5" y2="137" stroke="#000" stroke-width="1.8" stroke-linecap="butt"/>
<circle cx="205" cy="137" r="1.8"/>
<text x="212" y="141.5" font-size="10.4" font-weight="normal" text-anchor="start" fill="#000" textLength="71" lengthAdjust="spacing" stroke="#000" stroke-width="0.35">G-CSF (n=9)</text>
<circle cx="207" cy="145.8" r="1.6"/>
<text x="214" y="151.8" font-size="10.4" textLength="28" lengthAdjust="spacing" stroke="#000" stroke-width="0.35"><tspan font-style="italic">P</tspan>&lt;.05</text>
<polyline points="260,57 269.6,57 269.6,65.2 260,65.2" fill="none" stroke="#000" stroke-width="1.8" stroke-linejoin="round"/>
<line x1="269.6" y1="61.5" x2="272.5" y2="61.5" stroke="#000" stroke-width="1.8" stroke-linecap="butt"/>
<text x="260.4" y="77.2" font-size="10.3" textLength="26.6" lengthAdjust="spacing" stroke="#000" stroke-width="0.35"><tspan font-style="italic">P</tspan>=.01</text>
<line x1="205" y1="365.2" x2="218.5" y2="365.2" stroke="#000" stroke-width="1.8" stroke-linecap="butt"/>
<circle cx="211.5" cy="365.2" r="2"/>
<text x="220.6" y="368.6" font-size="9.3" font-weight="normal" text-anchor="start" fill="#000" textLength="67" lengthAdjust="spacingAndGlyphs" stroke="#000" stroke-width="0.28" letter-spacing="1.4">PBS (n=10)</text>
<line x1="205" y1="374" x2="218.5" y2="374" stroke="#000" stroke-width="1.8" stroke-linecap="butt"/>
<circle cx="211.5" cy="374" r="1.8"/>
<text x="220.3" y="377.9" font-size="9.3" font-weight="normal" text-anchor="start" fill="#000" textLength="91.5" lengthAdjust="spacingAndGlyphs" stroke="#000" stroke-width="0.28" letter-spacing="1.4">AMD3100 (n=7)</text>
<circle cx="209.7" cy="386.6" r="1.6"/>
<circle cx="214.3" cy="386.6" r="1.6"/>
<text x="225.4" y="391.4" font-size="10.2" textLength="27.2" lengthAdjust="spacing" stroke="#000" stroke-width="0.35"><tspan font-style="italic">P</tspan>&lt;.01</text>
<circle cx="208" cy="398.9" r="1.5"/>
<circle cx="211.5" cy="398.9" r="1.5"/>
<circle cx="215" cy="398.9" r="1.5"/>
<text x="225.4" y="404.4" font-size="10.2" textLength="33.4" lengthAdjust="spacing" stroke="#000" stroke-width="0.35"><tspan font-style="italic">P</tspan>&lt;.001</text>
<polyline points="268.9,300.3 277.7,300.3 277.7,306.4 268.9,306.4" fill="none" stroke="#000" stroke-width="1.6" stroke-linejoin="round"/>
<line x1="277.7" y1="303.4" x2="280.5" y2="303.4" stroke="#000" stroke-width="1.6" stroke-linecap="butt"/>
<text x="271.5" y="317.8" font-size="10.2" textLength="35.1" lengthAdjust="spacing" stroke="#000" stroke-width="0.35"><tspan font-style="italic">P</tspan>=.025</text>
<line x1="190" y1="605.5" x2="203.75" y2="605.5" stroke="#000" stroke-width="1.8" stroke-linecap="butt"/>
<circle cx="196.8" cy="605.5" r="2"/>
<text x="204.3" y="608" font-size="9" font-weight="normal" text-anchor="start" fill="#000" textLength="65.6" lengthAdjust="spacingAndGlyphs" stroke="#000" stroke-width="0.28" letter-spacing="1.4">PBS (n=10)</text>
<line x1="187.5" y1="613" x2="201.25" y2="613" stroke="#000" stroke-width="1.8" stroke-linecap="butt"/>
<circle cx="194.5" cy="613" r="1.8"/>
<text x="201.8" y="616.9" font-size="8.5" font-weight="normal" text-anchor="start" fill="#000" textLength="51.4" lengthAdjust="spacingAndGlyphs" stroke="#000" stroke-width="0.28" letter-spacing="1.4">G+A (n=7)</text>
<circle cx="194.8" cy="623.9" r="1.6"/>
<text x="205.8" y="631.5" font-size="10.2" textLength="28.8" lengthAdjust="spacing" stroke="#000" stroke-width="0.35"><tspan font-style="italic">P</tspan>&lt;.05</text>
<circle cx="194.6" cy="637.2" r="1.6"/>
<circle cx="199.2" cy="637.2" r="1.6"/>
<text x="206.4" y="643.8" font-size="10.2" textLength="27.6" lengthAdjust="spacing" stroke="#000" stroke-width="0.35"><tspan font-style="italic">P</tspan>&lt;.01</text>
<polyline points="271.2,522 280.8,522 280.8,539.5 271.2,539.5" fill="none" stroke="#000" stroke-width="1.8" stroke-linejoin="round"/>
<text x="270.8" y="554.4" font-size="10.4" textLength="33.4" lengthAdjust="spacing" stroke="#000" stroke-width="0.35"><tspan font-style="italic">P</tspan>&lt;.001</text>
<text x="312.3" y="28.8" font-size="13.2" font-weight="normal" text-anchor="start" fill="#c82c36" textLength="82" lengthAdjust="spacing" stroke="#c82c36" stroke-width="0.3">Ischemic Limb</text>
<text x="407.8" y="29" font-size="13.2" font-weight="normal" text-anchor="start" fill="#c82c36" textLength="110.3" lengthAdjust="spacing" stroke="#c82c36" stroke-width="0.3">Non-ischemic Limb</text>
<defs>
<filter id="sf" x="-5%" y="-5%" width="110%" height="110%"><feGaussianBlur stdDeviation="0.45"/></filter>
<filter id="m1" x="0" y="0" width="100%" height="100%" filterUnits="objectBoundingBox" color-interpolation-filters="sRGB">
 <feTurbulence type="fractalNoise" baseFrequency="0.16" numOctaves="2" seed="4" result="n"/>
 <feColorMatrix in="n" type="matrix" values="0 0 0 0 0.133  0 0 0 0 0.204  0 0 0 0 0.965  1.6 0 0 0 -0.35" result="c"/>
 <feComponentTransfer in="c" result="t"><feFuncA type="discrete" tableValues="0 0 0 0 0 1 1 1 1 1"/></feComponentTransfer>
 <feComposite in="t" in2="SourceGraphic" operator="in"/>
</filter>
<filter id="m2" x="0" y="0" width="100%" height="100%" filterUnits="objectBoundingBox" color-interpolation-filters="sRGB">
 <feTurbulence type="fractalNoise" baseFrequency="0.16" numOctaves="2" seed="11" result="n"/>
 <feColorMatrix in="n" type="matrix" values="0 0 0 0 0.133  0 0 0 0 0.204  0 0 0 0 0.965  1.6 0 0 0 -0.35" result="c"/>
 <feComponentTransfer in="c" result="t"><feFuncA type="discrete" tableValues="0 0 0 1 1 1 1 1 1 1"/></feComponentTransfer>
 <feComposite in="t" in2="SourceGraphic" operator="in"/>
</filter>
<filter id="m3" x="0" y="0" width="100%" height="100%" filterUnits="objectBoundingBox" color-interpolation-filters="sRGB">
 <feTurbulence type="fractalNoise" baseFrequency="0.13" numOctaves="2" seed="7" result="n"/>
 <feColorMatrix in="n" type="matrix" values="0 0 0 0 0.133  0 0 0 0 0.204  0 0 0 0 0.965  1.6 0 0 0 -0.35" result="c"/>
 <feComponentTransfer in="c" result="t"><feFuncA type="discrete" tableValues="0 0 0 0 0 0 1 1 1 1"/></feComponentTransfer>
 <feComposite in="t" in2="SourceGraphic" operator="in"/>
</filter>
</defs>
<defs>
<clipPath id="rA"><rect x="327.8" y="39.7" width="176.8" height="123.5"/></clipPath>
<clipPath id="rB"><rect x="327.8" y="203" width="176.8" height="123"/></clipPath>
<clipPath id="rC"><rect x="327" y="368.8" width="178.9" height="126.5"/></clipPath>
<clipPath id="rD"><rect x="327" y="537.5" width="178" height="135"/></clipPath>
<clipPath id="cpA"><polygon points="375.8,39.7 464.5,39.7 465.4,55.3 463.7,69.2 461,81.3 462,95 465,102 470,108 476,115 479.5,126 480.5,136 479.5,140 476,141.5 473,139 471,133 468,125 463.5,119.6 457.3,113.5 453.5,105.8 451.2,93.5 450.4,79.6 448.8,72 446.5,69.6 443.5,70.4 440.4,73.5 435.8,76.5 431.2,82.7 428,82.7 426.5,93.5 426.5,108.8 425.3,125 425.3,163.2 416.6,163.2 415.8,125 415,116.5 412.7,105.8 409.6,98 408,90.4 408.8,81.2 412,78 418,76.5 418.8,75 415.8,71.9 410.4,66.5 406.5,64.2 401.9,64.2 394.2,66.5 389.5,68.5 388.8,72 389.1,83 387.5,95 387,100 383,105 378,110 372.7,116.7 366,125 363,130 360,134.5 357,135 355.3,131 356,125 358.5,116.7 363.6,108 367,103 372.7,100 374.5,97 377,83 376.3,72 375.6,55"/></clipPath>
<clipPath id="cpB"><polygon points="368.2,203 459.3,203 458.5,217.3 456.7,234.6 455.9,251.9 457.6,269.2 461.9,280 468.4,294.6 474.1,307.6 473,310.5 471.2,310.5 466.9,306.1 461.1,294.6 453.9,286 451,276 448.1,265.8 447.2,251.9 446.5,240 444,234 440,232.5 434,233.5 431.5,236 431.7,245 430,252 428,258.5 425,263 421.6,267.5 421,275 420.6,326 410.4,326 410,275 409.5,267.5 406,264 404,258.5 402.5,250 401.5,240 398.5,234.6 393.3,231.2 389,229.4 384.6,231.2 382.9,239.8 382,251.9 380.3,264 376,274.4 371.7,283 368,289 363.1,294.6 358.7,307.6 354.4,309.5 352.5,306 353,303.3 355.9,288.8 360.2,277.3 363.8,274.4 367,270 369,265.8 370.4,251.9 369.9,234.6 369,217.3"/></clipPath>
<clipPath id="cpC"><polygon points="369,368.8 461.9,368.8 468.8,375.4 470.6,382.3 469.7,399.6 467.5,412 466.2,420.8 465.4,437 467,445 472.7,453.4 482.5,464.8 488,472 492.3,481 494.5,487.7 493,492 490,493.5 485.8,487.7 480,480 477.6,474.6 469.5,466.5 461.3,456.7 457,450 455.6,445.3 455.6,429 453.5,420 451,414 445.8,412.5 437.1,407.3 431,406.4 427.6,407.3 425.9,411.6 421.5,412.5 428.5,421.2 430.2,433.3 430.2,445.4 426.7,454 427.5,470 432.3,495.3 418.5,495.3 415.5,470 414.6,457.5 409.4,455.8 402.5,447 399.9,433.3 400.8,421.2 404.2,407.3 403.4,400.4 402.5,397 397.3,397 390.4,402 387.4,406 385,413 383.3,429 381,445 377.6,453.4 375,460 369.5,469.7 364.6,478 360,487 357,491.5 353.5,491.5 352.3,487 353,478 355.6,469.7 358,462 363,453.4 367,440 368.7,429 368.5,410 367.8,396 367.3,391 367.3,378.8"/></clipPath>
<clipPath id="cpD"><polygon points="371.6,537.5 455.3,537.5 455.9,550.3 459,567.6 461.9,581.5 461,595 459.5,607 460.5,618 466.6,625.6 477.5,633.4 483,640 488.4,653.75 490,660 488,664.5 485.3,665 480.6,661.6 475,653 469.7,644.4 463,638 458.75,633.4 454,628 451,622.5 450,610 449.4,591 447.7,589 440.8,587.3 427,590.8 425.2,594.2 426.1,604.6 424.3,615 420.9,623.7 419.1,632.3 420,672.5 409.6,672.5 410.5,632.3 408.7,625.4 406.2,616.7 405.3,604.6 403.6,596 399.2,589 394,579.5 388,578.7 384.5,587.3 384,600 383.5,612 381,620 376,626 371,631.5 365,636 360,642 356.5,649 352.5,653 349.5,652.5 347.2,648 348,641 352,634.5 357.2,629.7 364,624 368.5,619 372.5,610 373,597 371,585 370,567.6 370.4,550.3"/></clipPath>
</defs>
<g clip-path="url(#rA)"><g filter="url(#sf)">
<rect x="327.8" y="39.7" width="176.8" height="123.5" fill="#6c7f80"/>
<polygon points="375.8,39.7 464.5,39.7 465.4,55.3 463.7,69.2 461,81.3 462,95 465,102 470,108 476,115 479.5,126 480.5,136 479.5,140 476,141.5 473,139 471,133 468,125 463.5,119.6 457.3,113.5 453.5,105.8 451.2,93.5 450.4,79.6 448.8,72 446.5,69.6 443.5,70.4 440.4,73.5 435.8,76.5 431.2,82.7 428,82.7 426.5,93.5 426.5,108.8 425.3,125 425.3,163.2 416.6,163.2 415.8,125 415,116.5 412.7,105.8 409.6,98 408,90.4 408.8,81.2 412,78 418,76.5 418.8,75 415.8,71.9 410.4,66.5 406.5,64.2 401.9,64.2 394.2,66.5 389.5,68.5 388.8,72 389.1,83 387.5,95 387,100 383,105 378,110 372.7,116.7 366,125 363,130 360,134.5 357,135 355.3,131 356,125 358.5,116.7 363.6,108 367,103 372.7,100 374.5,97 377,83 376.3,72 375.6,55" fill="#0406c8"/>
<g clip-path="url(#cpA)"><polygon points="378,39.7 462,39.7 462,66 440,67 430,75 418,72 412,62 392,62 380,60" fill="#2234f6" filter="url(#m3)"/></g>
<polyline points="385.5,44 385.5,55 385,68 384,80 383.7,90" fill="none" stroke="#80f430" stroke-width="5" stroke-linejoin="round" stroke-linecap="round"/>
<polyline points="384,86 383.7,90 381.5,100 376,107 370,113 365,119 361.5,126 359,132" fill="none" stroke="#80f430" stroke-width="6.5" stroke-linejoin="round" stroke-linecap="round"/>
<polyline points="385.5,50 385.2,62 385,75" fill="none" stroke="#f0f030" stroke-width="3" stroke-linejoin="round" stroke-linecap="round"/>
<polyline points="385.3,60 385.1,63" fill="none" stroke="#f08040" stroke-width="1.8" stroke-linejoin="round" stroke-linecap="round"/>
<polyline points="385,73 385,76" fill="none" stroke="#f08040" stroke-width="1.8" stroke-linejoin="round" stroke-linecap="round"/>
<polyline points="366,118 364.5,122" fill="none" stroke="#f0f030" stroke-width="2.5" stroke-linejoin="round" stroke-linecap="round"/>
<ellipse cx="364.8" cy="121" rx="1" ry="1.2" fill="#f08040" transform="rotate(0 364.8 121)"/>
<polyline points="449,42 451.5,52 453.5,64 453.5,75 453,85 455,95" fill="none" stroke="#80f430" stroke-width="4.5" stroke-linejoin="round" stroke-linecap="round"/>
<polyline points="454,90 455,95 460,104 466,111" fill="none" stroke="#80f430" stroke-width="6" stroke-linejoin="round" stroke-linecap="round"/>
<polyline points="450.8,50 452.8,62 453,70" fill="none" stroke="#f0f030" stroke-width="2.5" stroke-linejoin="round" stroke-linecap="round"/>
<ellipse cx="452.8" cy="65" rx="1" ry="1.3" fill="#f08040" transform="rotate(0 452.8 65)"/>
<polyline points="467,113 472.5,121 475.5,130 476.5,138" fill="none" stroke="#f0f030" stroke-width="8.5" stroke-linejoin="round" stroke-linecap="round"/>
<polyline points="467.5,115 472,122 474.8,130 475.5,137" fill="none" stroke="#f01818" stroke-width="7" stroke-linejoin="round" stroke-linecap="round"/>
<polyline points="419.7,112 420.1,125 420.5,163.2" fill="none" stroke="#80f430" stroke-width="4.4" stroke-linejoin="round" stroke-linecap="butt"/>
<polyline points="419.8,114 420,124" fill="none" stroke="#f08040" stroke-width="2.2" stroke-linejoin="round" stroke-linecap="round"/>
<polyline points="420.1,126 420.4,150" fill="none" stroke="#f0f030" stroke-width="1.6" stroke-linejoin="round" stroke-linecap="round"/>
<ellipse cx="430.8" cy="51.8" rx="2" ry="1.5" fill="#80f430" transform="rotate(0 430.8 51.8)"/>
</g></g>
<g clip-path="url(#rB)"><g filter="url(#sf)">
<rect x="327.8" y="203" width="176.8" height="123" fill="#6c7f80"/>
<polygon points="368.2,203 459.3,203 458.5,217.3 456.7,234.6 455.9,251.9 457.6,269.2 461.9,280 468.4,294.6 474.1,307.6 473,310.5 471.2,310.5 466.9,306.1 461.1,294.6 453.9,286 451,276 448.1,265.8 447.2,251.9 446.5,240 444,234 440,232.5 434,233.5 431.5,236 431.7,245 430,252 428,258.5 425,263 421.6,267.5 421,275 420.6,326 410.4,326 410,275 409.5,267.5 406,264 404,258.5 402.5,250 401.5,240 398.5,234.6 393.3,231.2 389,229.4 384.6,231.2 382.9,239.8 382,251.9 380.3,264 376,274.4 371.7,283 368,289 363.1,294.6 358.7,307.6 354.4,309.5 352.5,306 353,303.3 355.9,288.8 360.2,277.3 363.8,274.4 367,270 369,265.8 370.4,251.9 369.9,234.6 369,217.3" fill="#0406c8"/>
<g clip-path="url(#cpB)"><polygon points="368,203 459,203 458,236 440,232 425,240 410,240 400,232 385,228 370,230" fill="#2234f6" filter="url(#m2)"/></g>
<polygon points="396,208 403,205 410,207 410.5,222 408.5,234 401,234 397,226" fill="#80f430"/>
<polygon points="411,203 433,203 433,212 430,222 427,230 422,235 416,235 412,230 411,220" fill="#80f430"/>
<polygon points="413,204 430,204 429,212 425,222 420,228 415,225 413,215" fill="#f0f030"/>
<polygon points="430,203 441,203 440,209 431,210" fill="#f0f030"/>
<ellipse cx="418" cy="217" rx="2.5" ry="3.5" fill="#f05a5a" transform="rotate(0 418 217)"/>
<polyline points="381.5,204 380.5,210 378.5,218 377,228 376.5,240 376.8,252 375.8,262 373.5,269 369,277 363,286 358.5,295 356.5,304" fill="none" stroke="#80f430" stroke-width="7.5" stroke-linejoin="round" stroke-linecap="round"/>
<polyline points="379,216 377.3,230 377,245 376.6,258 374.5,266" fill="none" stroke="#f0f030" stroke-width="6.8" stroke-linejoin="round" stroke-linecap="round"/>
<polyline points="377.3,225 377.4,240 377.3,255 376.6,262" fill="none" stroke="#f01818" stroke-width="3.8" stroke-linejoin="round" stroke-linecap="round"/>
<polyline points="361,289 358.5,298 357.5,304" fill="none" stroke="#f0f030" stroke-width="6.5" stroke-linejoin="round" stroke-linecap="round"/>
<polyline points="360.5,291 358.5,298 357.8,303.5" fill="none" stroke="#f01818" stroke-width="4.5" stroke-linejoin="round" stroke-linecap="round"/>
<polyline points="448.5,203.5 449.5,215 450.5,228 451.5,245 452.5,258 454.5,266 457,271 462,280 466,289 469,298 471.5,307" fill="none" stroke="#80f430" stroke-width="6" stroke-linejoin="round" stroke-linecap="round"/>
<polyline points="449.3,212 450.3,225 451,238" fill="none" stroke="#f0f030" stroke-width="2.5" stroke-linejoin="round" stroke-linecap="round"/>
<polygon points="428,203 446,203 445,208 438,212 430,212" fill="#80f430"/>
<polygon points="430,203 443,203 440,207 432,208" fill="#f0f030"/>
<polyline points="462,281 466,290 469.5,300 471,306" fill="none" stroke="#f0f030" stroke-width="7.5" stroke-linejoin="round" stroke-linecap="round"/>
<polyline points="463.8,284.5 466.7,291 469.2,299 471,306.5" fill="none" stroke="#f01818" stroke-width="5" stroke-linejoin="round" stroke-linecap="round"/>
<polyline points="415.5,267 415.3,290 415.3,326" fill="none" stroke="#80f430" stroke-width="5" stroke-linejoin="round" stroke-linecap="butt"/>
<polyline points="415.5,272 415.3,300 415.3,326" fill="none" stroke="#f0f030" stroke-width="2.5" stroke-linejoin="round" stroke-linecap="butt"/>
</g></g>
<g clip-path="url(#rC)"><g filter="url(#sf)">
<rect x="327" y="368.8" width="178.9" height="126.5" fill="#6c7f80"/>
<polygon points="369,368.8 461.9,368.8 468.8,375.4 470.6,382.3 469.7,399.6 467.5,412 466.2,420.8 465.4,437 467,445 472.7,453.4 482.5,464.8 488,472 492.3,481 494.5,487.7 493,492 490,493.5 485.8,487.7 480,480 477.6,474.6 469.5,466.5 461.3,456.7 457,450 455.6,445.3 455.6,429 453.5,420 451,414 445.8,412.5 437.1,407.3 431,406.4 427.6,407.3 425.9,411.6 421.5,412.5 428.5,421.2 430.2,433.3 430.2,445.4 426.7,454 427.5,470 432.3,495.3 418.5,495.3 415.5,470 414.6,457.5 409.4,455.8 402.5,447 399.9,433.3 400.8,421.2 404.2,407.3 403.4,400.4 402.5,397 397.3,397 390.4,402 387.4,406 385,413 383.3,429 381,445 377.6,453.4 375,460 369.5,469.7 364.6,478 360,487 357,491.5 353.5,491.5 352.3,487 353,478 355.6,469.7 358,462 363,453.4 367,440 368.7,429 368.5,410 367.8,396 367.3,391 367.3,378.8" fill="#0406c8"/>
<g clip-path="url(#cpC)"><polygon points="368,369 466,369 466,398 440,404 420,401 405,398 395,395 385,400 370,400" fill="#2234f6" filter="url(#m1)"/></g>
<g clip-path="url(#cpC)"><polygon points="385,369 452,369 455,380 452,395 445,402 430,404 420,401 410,398 400,395 392,392 386,386 384,378" fill="#2234f6"/></g>
<ellipse cx="392" cy="380" rx="2.5" ry="1.5" fill="#0406c8" transform="rotate(0 392 380)"/>
<ellipse cx="400" cy="372" rx="2" ry="1.2" fill="#0406c8" transform="rotate(0 400 372)"/>
<ellipse cx="425" cy="395" rx="3" ry="1.5" fill="#0406c8" transform="rotate(0 425 395)"/>
<ellipse cx="448" cy="398" rx="2" ry="2" fill="#0406c8" transform="rotate(0 448 398)"/>
<ellipse cx="397" cy="388" rx="1.5" ry="1.5" fill="#0406c8" transform="rotate(0 397 388)"/>
<polygon points="436,369 448,369 448.5,378 447,388 441,389 437,382 436,375" fill="#80f430"/>
<polygon points="438.5,370 446,370 446,379 442,386 439,380" fill="#f0f030"/>
<ellipse cx="442" cy="378.8" rx="1.6" ry="1.6" fill="#f01818" transform="rotate(0 442 378.8)"/>
<ellipse cx="439.6" cy="385.5" rx="1.4" ry="1.2" fill="#e05030" transform="rotate(0 439.6 385.5)"/>
<polygon points="405,396 407,390 409,389 409.5,393 412,392 412,396.5 406,397.5" fill="#80f430"/>
<polygon points="429,378 436,377 436,382 430,382.5" fill="#80f430"/>
<ellipse cx="416" cy="381" rx="1.2" ry="1.2" fill="#80f430" transform="rotate(0 416 381)"/>
<ellipse cx="417.5" cy="386" rx="1.2" ry="1.6" fill="#80f430" transform="rotate(0 417.5 386)"/>
<ellipse cx="414" cy="390" rx="1.5" ry="1" fill="#80f430" transform="rotate(0 414 390)"/>
<ellipse cx="420" cy="392" rx="2.5" ry="1" fill="#80f430" transform="rotate(0 420 392)"/>
<ellipse cx="455" cy="370" rx="3" ry="1.2" fill="#80f430" transform="rotate(0 455 370)"/>
<ellipse cx="461" cy="372" rx="2" ry="1.2" fill="#80f430" transform="rotate(0 461 372)"/>
<ellipse cx="425" cy="370" rx="2" ry="1" fill="#80f430" transform="rotate(0 425 370)"/>
<polyline points="377,393 377.2,405 376.5,418 375.5,430 374.5,442 372,452 368,460 363,467 358.5,475 357,482 356.5,487" fill="none" stroke="#80f430" stroke-width="6.5" stroke-linejoin="round" stroke-linecap="round"/>
<polyline points="377,400 377.5,412 377,425 375.5,436" fill="none" stroke="#f0f030" stroke-width="4.5" stroke-linejoin="round" stroke-linecap="round"/>
<polyline points="378,410 378,425" fill="none" stroke="#f01818" stroke-width="2.8" stroke-linejoin="round" stroke-linecap="round"/>
<polyline points="359,474 357,482" fill="none" stroke="#f0f030" stroke-width="5.5" stroke-linejoin="round" stroke-linecap="round"/>
<polyline points="356.8,477 356.2,483.5" fill="none" stroke="#f01818" stroke-width="3" stroke-linejoin="round" stroke-linecap="round"/>
<polyline points="454.5,393 456.5,403 458,413 458.5,425" fill="none" stroke="#80f430" stroke-width="6" stroke-linejoin="round" stroke-linecap="round"/>
<polyline points="459.5,441 462,450 467,457 472,463" fill="none" stroke="#80f430" stroke-width="9" stroke-linejoin="round" stroke-linecap="round"/>
<polyline points="471,462 476,468 479,471" fill="none" stroke="#f0f030" stroke-width="8" stroke-linejoin="round" stroke-linecap="round"/>
<polyline points="478,470 483,477 487.5,484 490,489.5" fill="none" stroke="#f0f030" stroke-width="9.5" stroke-linejoin="round" stroke-linecap="round"/>
<polyline points="479.5,471.5 483.8,477.5 488,484 490,489" fill="none" stroke="#f01818" stroke-width="7" stroke-linejoin="round" stroke-linecap="round"/>
<polyline points="417,453 421.5,452.5 426,453" fill="none" stroke="#80f430" stroke-width="3.5" stroke-linejoin="round" stroke-linecap="round"/>
<polyline points="421.2,453 421.5,470 425.3,495.3" fill="none" stroke="#80f430" stroke-width="6" stroke-linejoin="round" stroke-linecap="butt"/>
<polyline points="421.5,458 422,472 425.3,495.3" fill="none" stroke="#f0f030" stroke-width="2.2" stroke-linejoin="round" stroke-linecap="butt"/>
</g></g>
<g clip-path="url(#rD)"><g filter="url(#sf)">
<rect x="327" y="537.5" width="178" height="135" fill="#6c7f80"/>
<polygon points="371.6,537.5 455.3,537.5 455.9,550.3 459,567.6 461.9,581.5 461,595 459.5,607 460.5,618 466.6,625.6 477.5,633.4 483,640 488.4,653.75 490,660 488,664.5 485.3,665 480.6,661.6 475,653 469.7,644.4 463,638 458.75,633.4 454,628 451,622.5 450,610 449.4,591 447.7,589 440.8,587.3 427,590.8 425.2,594.2 426.1,604.6 424.3,615 420.9,623.7 419.1,632.3 420,672.5 409.6,672.5 410.5,632.3 408.7,625.4 406.2,616.7 405.3,604.6 403.6,596 399.2,589 394,579.5 388,578.7 384.5,587.3 384,600 383.5,612 381,620 376,626 371,631.5 365,636 360,642 356.5,649 352.5,653 349.5,652.5 347.2,648 348,641 352,634.5 357.2,629.7 364,624 368.5,619 372.5,610 373,597 371,585 370,567.6 370.4,550.3" fill="#0406c8"/>
<g clip-path="url(#cpD)"><polygon points="372,538 432,538 432,578 418,590 400,585 390,578 372,575" fill="#2234f6" filter="url(#m1)"/></g>
<ellipse cx="440" cy="556" rx="2" ry="1.5" fill="#2234f6" transform="rotate(0 440 556)"/>
<ellipse cx="446" cy="566" rx="1.5" ry="2" fill="#2234f6" transform="rotate(0 446 566)"/>
<ellipse cx="437" cy="575" rx="2" ry="1.2" fill="#2234f6" transform="rotate(0 437 575)"/>
<ellipse cx="450" cy="580" rx="1.5" ry="1.5" fill="#2234f6" transform="rotate(0 450 580)"/>
<ellipse cx="443" cy="549" rx="1.5" ry="1" fill="#2234f6" transform="rotate(0 443 549)"/>
<g clip-path="url(#cpD)"><polygon points="380,538 452,538 450,546 432,549 430,577 420,586 405,585 398,579 390,577 382,570 378,560 377,548" fill="#2234f6"/></g>
<ellipse cx="388" cy="552" rx="2" ry="1.5" fill="#0406c8" transform="rotate(0 388 552)"/>
<ellipse cx="395" cy="570" rx="2" ry="2" fill="#0406c8" transform="rotate(0 395 570)"/>
<ellipse cx="418" cy="575" rx="2" ry="1.5" fill="#0406c8" transform="rotate(0 418 575)"/>
<ellipse cx="414" cy="548" rx="2" ry="1.2" fill="#0406c8" transform="rotate(0 414 548)"/>
<polygon points="399,560 403,557 408,558 411,563 412,572 411,585 405,586 402,580 398.5,573 400,566" fill="#80f430"/>
<polygon points="420,567 425,566 428,570 430,577 426,580 420,577" fill="#80f430"/>
<polygon points="396.5,538.5 402,538.5 401.2,544 397.3,544" fill="#80f430"/>
<polygon points="404,539 407,539 406.2,543 404.8,543" fill="#80f430"/>
<polygon points="416,538.5 422,538.5 421.2,543.5 416.8,543.5" fill="#80f430"/>
<polygon points="425,539 431,539 430.2,544 425.8,544" fill="#80f430"/>
<polygon points="449,538.5 455.5,538.5 454.7,547.5 449.8,547.5" fill="#80f430"/>
<ellipse cx="404.5" cy="554" rx="3" ry="1.5" fill="#80f430" transform="rotate(0 404.5 554)"/>
<ellipse cx="419" cy="562" rx="2" ry="1.2" fill="#80f430" transform="rotate(0 419 562)"/>
<ellipse cx="413" cy="550" rx="1.2" ry="1" fill="#80f430" transform="rotate(0 413 550)"/>
<polyline points="380,561 380.8,575 381,590 380.5,605 379,614 374,621 367,627 360,633 354,640 350.5,647" fill="none" stroke="#80f430" stroke-width="6.5" stroke-linejoin="round" stroke-linecap="round"/>
<polyline points="380.5,566 381,580 381,595 380,608 377,617" fill="none" stroke="#f0f030" stroke-width="5.5" stroke-linejoin="round" stroke-linecap="round"/>
<polyline points="380.8,567 381,580 381,598" fill="none" stroke="#f01818" stroke-width="3" stroke-linejoin="round" stroke-linecap="round"/>
<polyline points="359,634 354.5,640 351,647.5" fill="none" stroke="#f0f030" stroke-width="9" stroke-linejoin="round" stroke-linecap="round"/>
<polyline points="358,635.5 354,641 351.5,646.5" fill="none" stroke="#f01818" stroke-width="6.5" stroke-linejoin="round" stroke-linecap="round"/>
<polyline points="453.3,574 453.8,590 454.5,603" fill="none" stroke="#f0f030" stroke-width="5" stroke-linejoin="round" stroke-linecap="round"/>
<polyline points="454.5,600 455.5,612 457,622 461,629 467,634 472,638" fill="none" stroke="#80f430" stroke-width="6" stroke-linejoin="round" stroke-linecap="round"/>
<polyline points="474,640 480,648 484.5,656 485.5,660" fill="none" stroke="#f0f030" stroke-width="11" stroke-linejoin="round" stroke-linecap="round"/>
<polyline points="475.5,641.5 480.5,648.5 484,656 484.5,659.5" fill="none" stroke="#f01818" stroke-width="8.5" stroke-linejoin="round" stroke-linecap="round"/>
<polyline points="415.4,627 415.4,650 415.4,672.5" fill="none" stroke="#80f430" stroke-width="5.5" stroke-linejoin="round" stroke-linecap="butt"/>
<polyline points="415.4,630 415.4,650 415.4,672.5" fill="none" stroke="#f0f030" stroke-width="3" stroke-linejoin="round" stroke-linecap="butt"/>
<polyline points="414.6,632 414.6,640" fill="none" stroke="#f05050" stroke-width="1.8" stroke-linejoin="round" stroke-linecap="round"/>
</g></g>
<text x="394.6" y="177.6" font-size="15.4" font-weight="bold" text-anchor="start" fill="#000" textLength="32.4" lengthAdjust="spacing">PBS</text>
<text x="388.6" y="340.7" font-size="15.4" font-weight="bold" text-anchor="start" fill="#000" textLength="48.6" lengthAdjust="spacing">G-CSF</text>
<text x="381.7" y="509.8" font-size="15.4" font-weight="bold" text-anchor="start" fill="#000" textLength="70.5" lengthAdjust="spacing">AMD3100</text>
<text x="348.2" y="691.7" font-size="16" font-weight="bold" text-anchor="start" fill="#000" textLength="138.7" lengthAdjust="spacing">G-CSF + AMD3100</text>
</svg></body></html>
